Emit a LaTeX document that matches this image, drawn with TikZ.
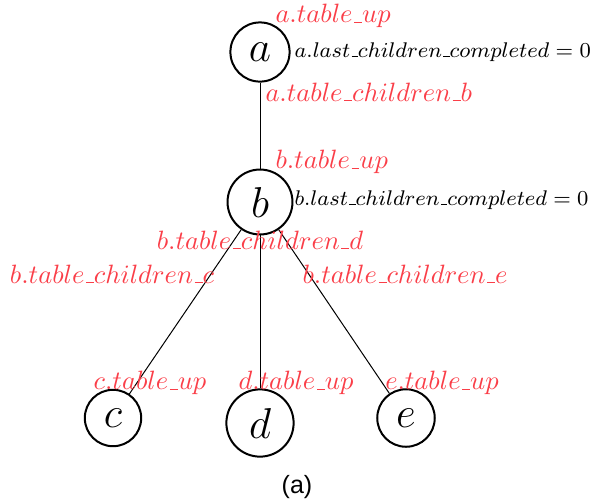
\RequirePackage{fix-cm}
\documentclass[tikz,border=0pt]{standalone}
\usepackage{fontspec}
\newfontfamily\capfont{Liberation Sans}
\definecolor{lblred}{RGB}{250,62,72}
% short rule underscore for identifiers
\newcommand{\us}{\kern.06em\vbox{\hrule width.3em}}
\begin{document}
\begin{tikzpicture}[x=0.4pt,y=-0.4pt,
  vertex/.style={circle,draw,line width=0.8pt,inner sep=4.3pt,font=\LARGE},
  tbl/.style={text=lblred,inner sep=0pt,font=\fontsize{10.6}{12}\selectfont},
  cnt/.style={inner sep=0pt,font=\fontsize{8.5}{10}\selectfont},
  edge/.style={line width=0.4pt}]
\useasboundingbox (0,0) rectangle (595,503);

% tree vertices
\node[vertex] (a) at (260,52)  {$a$};
\node[vertex] (b) at (260,202) {$b$};
\node[vertex] (c) at (113,418) {$c$};
\node[vertex] (d) at (260,423) {$d$};
\node[vertex] (e) at (406,418) {$e$};

% parent-child links
\draw[edge] (a) -- (b);
\draw[edge] (b) -- (c);
\draw[edge] (b) -- (d);
\draw[edge] (b) -- (e);

% per-vertex tables
\node[tbl,anchor=west] (aup) at (275,16) {$a.table\us up$};
\node[cnt,anchor=west] (alc) at (294,52) {$a.last\us children\us completed = 0$};
\node[tbl,anchor=west] (achb) at (265,92) {$a.table\us children\us b$};

\node[tbl,anchor=west] (bup) at (275,162) {$b.table\us up$};
\node[cnt,anchor=west] (blc) at (294,200) {$b.last\us children\us completed = 0$};
\node[tbl] (bchd) at (260,240) {$b.table\us children\us d$};
\node[tbl] (bchc) at (112,274) {$b.table\us children\us c$};
\node[tbl] (bche) at (405,274) {$b.table\us children\us e$};

\node[tbl] (cup) at (150,383) {$c.table\us up$};
\node[tbl] (dup) at (296,383) {$d.table\us up$};
\node[tbl] (eup) at (442,383) {$e.table\us up$};

% caption
\node[inner sep=0pt,font=\capfont] (cap) at (297,487) {(a)};
\end{tikzpicture}
\end{document}
